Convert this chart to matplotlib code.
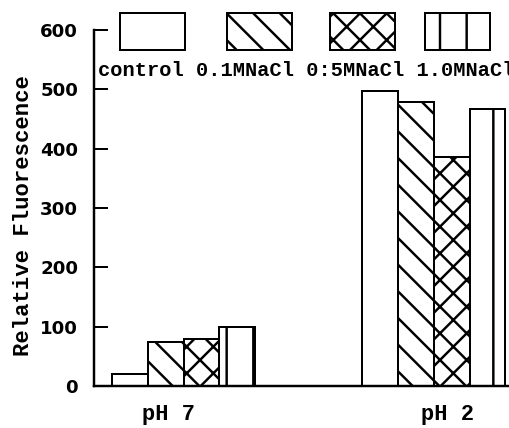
import matplotlib
matplotlib.use('Agg')
import numpy as np
import matplotlib.pyplot as plt
from matplotlib.patches import Rectangle

# data
groups = ['pH 7', 'pH 2']
series = ['control', '0.1MNaCl', '0:5MNaCl', '1.0MNaCl']
control = [20, 497]
nacl_01 = [75, 478]
nacl_05 = [80, 386]
nacl_10 = [100, 467]
data = [control, nacl_01, nacl_05, nacl_10]
hatches = ['', '\\\\', 'xx', '|']

W, H, DPI = 509, 428, 160
plt.rcParams['hatch.linewidth'] = 1.1
plt.rcParams['hatch.color'] = 'black'

fig = plt.figure(figsize=(W / DPI, H / DPI), dpi=DPI)
ax = fig.add_axes([94 / W, 42 / H, 415 / W, 356 / H])

x = np.arange(len(groups))
w = 0.143
for i, (vals, h) in enumerate(zip(data, hatches)):
    ax.bar(x + (i - 1.5) * w, vals, w, color='white', edgecolor='black',
           hatch=h, linewidth=0.9, label=series[i])

ax.set_xlim(-0.358, 1.30)
ax.set_ylim(0, 600)
for s in ['top', 'right']:
    ax.spines[s].set_visible(False)
for s in ['left', 'bottom']:
    ax.spines[s].set_linewidth(1.1)

ax.set_yticks(np.arange(0, 601, 100))
ax.tick_params(axis='y', direction='in', length=6.3, width=0.9, pad=7.2)
for t in ax.get_yticklabels():
    t.set_fontfamily('DejaVu Sans')
    t.set_fontweight('bold')
    t.set_fontsize(8.2)

label_shift = [-0.062, 0.054]
ax.set_xticks(x + np.array(label_shift))
ax.set_xticklabels(groups, fontfamily='Liberation Mono', fontweight='bold', fontsize=9.9)
ax.tick_params(axis='x', length=0, pad=8)

fig.text(24 / W, 1 - 216 / H, 'Relative Fluorescence', rotation=90,
         ha='center', va='center', fontfamily='Liberation Mono',
         fontweight='bold', fontsize=10)

# legend: boxes above, names in one row below
box_left = [120, 227, 330, 425]
for bx, h in zip(box_left, hatches):
    fig.add_artist(Rectangle((bx / W, 1 - 50 / H), 65 / W, 37 / H,
                             transform=fig.transFigure, facecolor='white',
                             edgecolor='black', hatch=h, linewidth=0.9))
fig.text(98 / W, 1 - 71 / H, ' '.join(series), ha='left', va='center',
         fontfamily='Liberation Mono', fontweight='bold', fontsize=9.2)

fig.savefig('out.png', dpi=DPI)
